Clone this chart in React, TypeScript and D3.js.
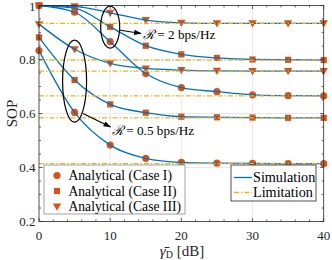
import React from 'react';
import * as d3 from 'd3';

// SNR grid (dB) where markers sit
const snrDb = [0, 5, 10, 15, 20, 25, 30, 35, 40];

// R = 2 bps/Hz
const r2CaseI = [1.0, 0.975, 0.866, 0.748, 0.696, 0.681, 0.669, 0.666, 0.665];
const r2CaseII = [1.0, 0.99, 0.921, 0.851, 0.819, 0.806, 0.8, 0.799, 0.798];
const r2CaseIII = [1.0, 0.997, 0.973, 0.946, 0.936, 0.934, 0.934, 0.934, 0.934];

// R = 0.5 bps/Hz
const r05CaseI = [0.833, 0.604, 0.483, 0.434, 0.419, 0.416, 0.415, 0.414, 0.414];
const r05CaseII = [0.882, 0.724, 0.634, 0.603, 0.588, 0.586, 0.585, 0.584, 0.584];
const r05CaseIII = [0.931, 0.838, 0.786, 0.767, 0.761, 0.758, 0.757, 0.757, 0.757];

// asymptotic limits
const limits = [0.934, 0.798, 0.665, 0.757, 0.584, 0.414];

const xTicks = [0, 10, 20, 30, 40];
const yTicks = [0.2, 0.4, 0.6, 0.8, 1];

const legendCases = ['Analytical (Case I)', 'Analytical (Case II)', 'Analytical (Case III)'];
const legendLines = ['Simulation', 'Limitation'];

const BLUE = '#0072BD';
const ORANGE = '#D95319';
const YELLOW = '#EDB120';
const FONT = '"Liberation Serif", "Times New Roman", serif';

const series = [
    { values: r2CaseI, shape: 'circle' },
    { values: r2CaseII, shape: 'square' },
    { values: r2CaseIII, shape: 'triangle' },
    { values: r05CaseI, shape: 'circle' },
    { values: r05CaseII, shape: 'square' },
    { values: r05CaseIII, shape: 'triangle' },
];

const Marker = ({ shape, x, y }) => {
    if (shape === 'circle') return <circle cx={x} cy={y} r={3.6} fill={ORANGE} />;
    if (shape === 'square') return <rect x={x - 3.1} y={y - 3.1} width={6.2} height={6.2} fill={ORANGE} />;
    return <path d={`M${x - 4.2},${y - 3} L${x + 4.2},${y - 3} L${x},${y + 4.2} Z`} fill={ORANGE} />;
};

const App = () => {
    const margins = { left: 39, right: 323.7, top: 5.5, bottom: 221.5 };

    const xScale = d3.scaleLinear().domain([0, 40]).range([margins.left, margins.right]);
    const yScale = d3.scaleLinear().domain([0.2, 1]).range([margins.bottom, margins.top]);

    const line = d3.line()
        .x((d) => xScale(d[0]))
        .y((d) => yScale(d[1]))
        .curve(d3.curveMonotoneX);

    const xMinor = d3.range(0, 40.01, 2);
    const yMinor = d3.range(0.2, 1.001, 0.05);

    return (
        <svg width={332} height={260} style={{ position: 'absolute', left: 0, top: 0, background: '#fff' }}
            fontFamily={FONT}>
            <defs>
                <marker id="arrow" viewBox="0 0 10 10" refX="9" refY="5" markerWidth="7" markerHeight="7" orient="auto">
                    <path d="M0,1.5 L10,5 L0,8.5 Z" fill="#000" />
                </marker>
            </defs>
            <rect x={margins.left} y={margins.top} width={margins.right - margins.left}
                height={margins.bottom - margins.top} fill="#fff" />

            {/* grid */}
            {xTicks.slice(1, -1).map((t) => (
                <line key={'gx' + t} x1={xScale(t)} x2={xScale(t)} y1={margins.top} y2={margins.bottom}
                    stroke="#e3e3e3" strokeWidth={0.8} />
            ))}
            {yTicks.slice(1, -1).map((t) => (
                <line key={'gy' + t} x1={margins.left} x2={margins.right} y1={yScale(t)} y2={yScale(t)}
                    stroke="#e3e3e3" strokeWidth={0.8} />
            ))}

            {/* markers */}
            {series.map((s, i) => (
                <g key={'m' + i}>
                    {s.values.map((v, j) => <Marker key={j} shape={s.shape} x={xScale(snrDb[j])} y={yScale(v)} />)}
                </g>
            ))}

            {/* simulation curves */}
            {series.map((s, i) => (
                <path key={'l' + i} d={line(s.values.map((v, j) => [snrDb[j], v]))} fill="none"
                    stroke={BLUE} strokeWidth={1.3} />
            ))}

            {/* limitation lines */}
            {limits.map((v, i) => (
                <line key={'lim' + i} x1={xScale(0)} x2={xScale(40)} y1={yScale(v)} y2={yScale(v)}
                    stroke={YELLOW} strokeWidth={1.3} strokeDasharray="5,2,1.5,2" />
            ))}

            {/* annotations */}
            <ellipse cx={xScale(10)} cy={yScale(0.92)} rx={9.5} ry={21} fill="none" stroke="#000" strokeWidth={1.2} />
            <ellipse cx={xScale(5)} cy={yScale(0.72)} rx={12} ry={41} fill="none" stroke="#000" strokeWidth={1.2} />
            <line x1={119} y1={30} x2={141} y2={33.5} stroke="#000" strokeWidth={1.1} markerEnd="url(#arrow)" />
            <line x1={83} y1={113.5} x2={110.5} y2={127} stroke="#000" strokeWidth={1.1} markerEnd="url(#arrow)" />
            <text x={143} y={38.5} fontSize={13.2}>
                <tspan fontStyle="italic">ℛ</tspan> = 2 bps/Hz
            </text>
            <text x={112} y={135} fontSize={13.2}>
                <tspan fontStyle="italic">ℛ</tspan> = 0.5 bps/Hz
            </text>

            {/* axes box and ticks */}
            <rect x={margins.left} y={margins.top} width={margins.right - margins.left}
                height={margins.bottom - margins.top} fill="none" stroke="#262626" strokeWidth={0.8} />
            {xMinor.map((t) => {
                const major = t % 10 === 0;
                const len = major ? 3.5 : 2;
                return (
                    <g key={'tx' + t}>
                        <line x1={xScale(t)} x2={xScale(t)} y1={margins.bottom} y2={margins.bottom - len} stroke="#262626" strokeWidth={0.7} />
                        <line x1={xScale(t)} x2={xScale(t)} y1={margins.top} y2={margins.top + len} stroke="#262626" strokeWidth={0.7} />
                    </g>
                );
            })}
            {yMinor.map((t, i) => {
                const major = i % 4 === 0;
                const len = major ? 3.5 : 2;
                return (
                    <g key={'ty' + i}>
                        <line x1={margins.left} x2={margins.left + len} y1={yScale(t)} y2={yScale(t)} stroke="#262626" strokeWidth={0.7} />
                        <line x1={margins.right} x2={margins.right - len} y1={yScale(t)} y2={yScale(t)} stroke="#262626" strokeWidth={0.7} />
                    </g>
                );
            })}
            {xTicks.map((t) => (
                <text key={'xl' + t} x={xScale(t)} y={239.5} fontSize={13} textAnchor="middle" fill="#262626">{t}</text>
            ))}
            {yTicks.map((t) => (
                <text key={'yl' + t} x={35.5} y={Math.max(yScale(t) + 4.5, 11)} fontSize={13} textAnchor="end" fill="#262626">{t}</text>
            ))}
            <text transform={`translate(17,${(margins.top + margins.bottom) / 2}) rotate(-90)`} fontSize={15}
                textAnchor="middle" fill="#262626">SOP</text>
            <text x={182} y={255.5} fontSize={15} textAnchor="middle" fill="#262626">
                <tspan fontStyle="italic">γ̄</tspan><tspan fontSize={10} dy={2.5}>D</tspan><tspan dy={-2.5}> [dB]</tspan>
            </text>

            {/* legend: analytical */}
            <rect x={44} y={165} width={141} height={49} fill="#fff" stroke="#8c8c8c" strokeWidth={0.8} />
            {legendCases.map((name, i) => (
                <g key={'lc' + i}>
                    <Marker shape={series[i].shape} x={57} y={175.5 + i * 15.5} />
                    <text x={68.5} y={180.3 + i * 15.5} fontSize={13.6} fill="#000">{name}</text>
                </g>
            ))}

            {/* legend: simulation / limitation */}
            <rect x={231} y={165} width={85} height={36} fill="#fff" stroke="#262626" strokeWidth={0.8} />
            {legendLines.map((name, i) => (
                <g key={'ll' + i}>
                    <line x1={234} x2={252} y1={177.5 + i * 15} y2={177.5 + i * 15}
                        stroke={i === 0 ? BLUE : YELLOW} strokeWidth={1.3}
                        strokeDasharray={i === 0 ? null : '5,2,1.5,2'} />
                    <text x={253} y={182.3 + i * 15} fontSize={14.2} fill="#000">{name}</text>
                </g>
            ))}
        </svg>
    );
};

export default App;
